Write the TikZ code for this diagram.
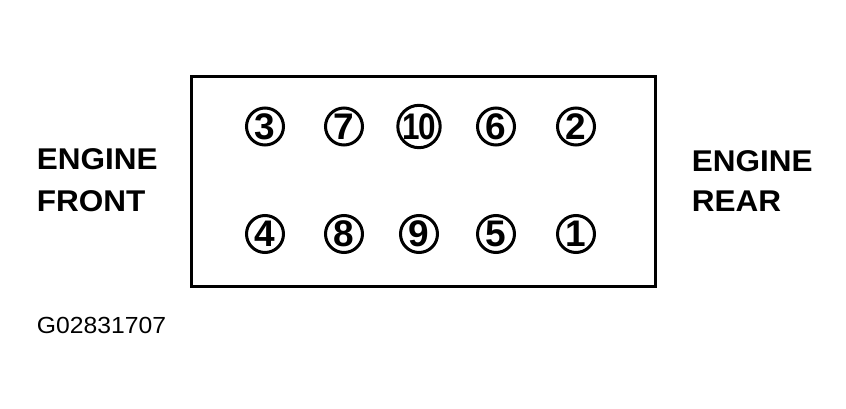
\documentclass[tikz,border=0pt]{standalone}
\usepackage{fontspec}
\setmainfont{Liberation Sans}
\begin{document}
\begin{tikzpicture}[x=1pt,y=-1pt,
  bolt/.style={circle,draw,line width=3pt,minimum size=37pt,inner sep=0pt,
    font=\fontsize{37}{37}\selectfont\bfseries},
  label/.style={anchor=base west,inner sep=0pt,font=\fontsize{30}{30}\selectfont\bfseries,xscale=1.05},
  code/.style={anchor=base west,inner sep=0pt,font=\fontsize{23.3}{24}\selectfont,xscale=1.06}]
\useasboundingbox (0,0) rectangle (846,409);
\draw[line width=3pt] (191.5,77) rectangle (655,286.5);
\node[bolt] (b3) at (265,126.5) {3};
\node[bolt] (b7) at (344,126.5) {7};
\node[bolt] (b10) at (419,126.5) {\scalebox{0.85}[1]{1\kern-2pt0}};
\node[bolt] (b6) at (496,126.5) {6};
\node[bolt] (b2) at (576,126.5) {2};
\node[bolt] (b4) at (265,234) {4};
\node[bolt] (b8) at (344,234) {8};
\node[bolt] (b9) at (419,234) {9};
\node[bolt] (b5) at (496,234) {5};
\node[bolt] (b1) at (576,234) {1};
\node[label] (ef1) at (36.7,170) {ENGINE};
\node[label] (ef2) at (36.7,211) {FRONT};
\node[label] (er1) at (691.7,171.5) {ENGINE};
\node[label] (er2) at (691.7,211.5) {REAR};
\node[code] (gc) at (36.7,333.3) {G02831707};
\end{tikzpicture}
\end{document}
